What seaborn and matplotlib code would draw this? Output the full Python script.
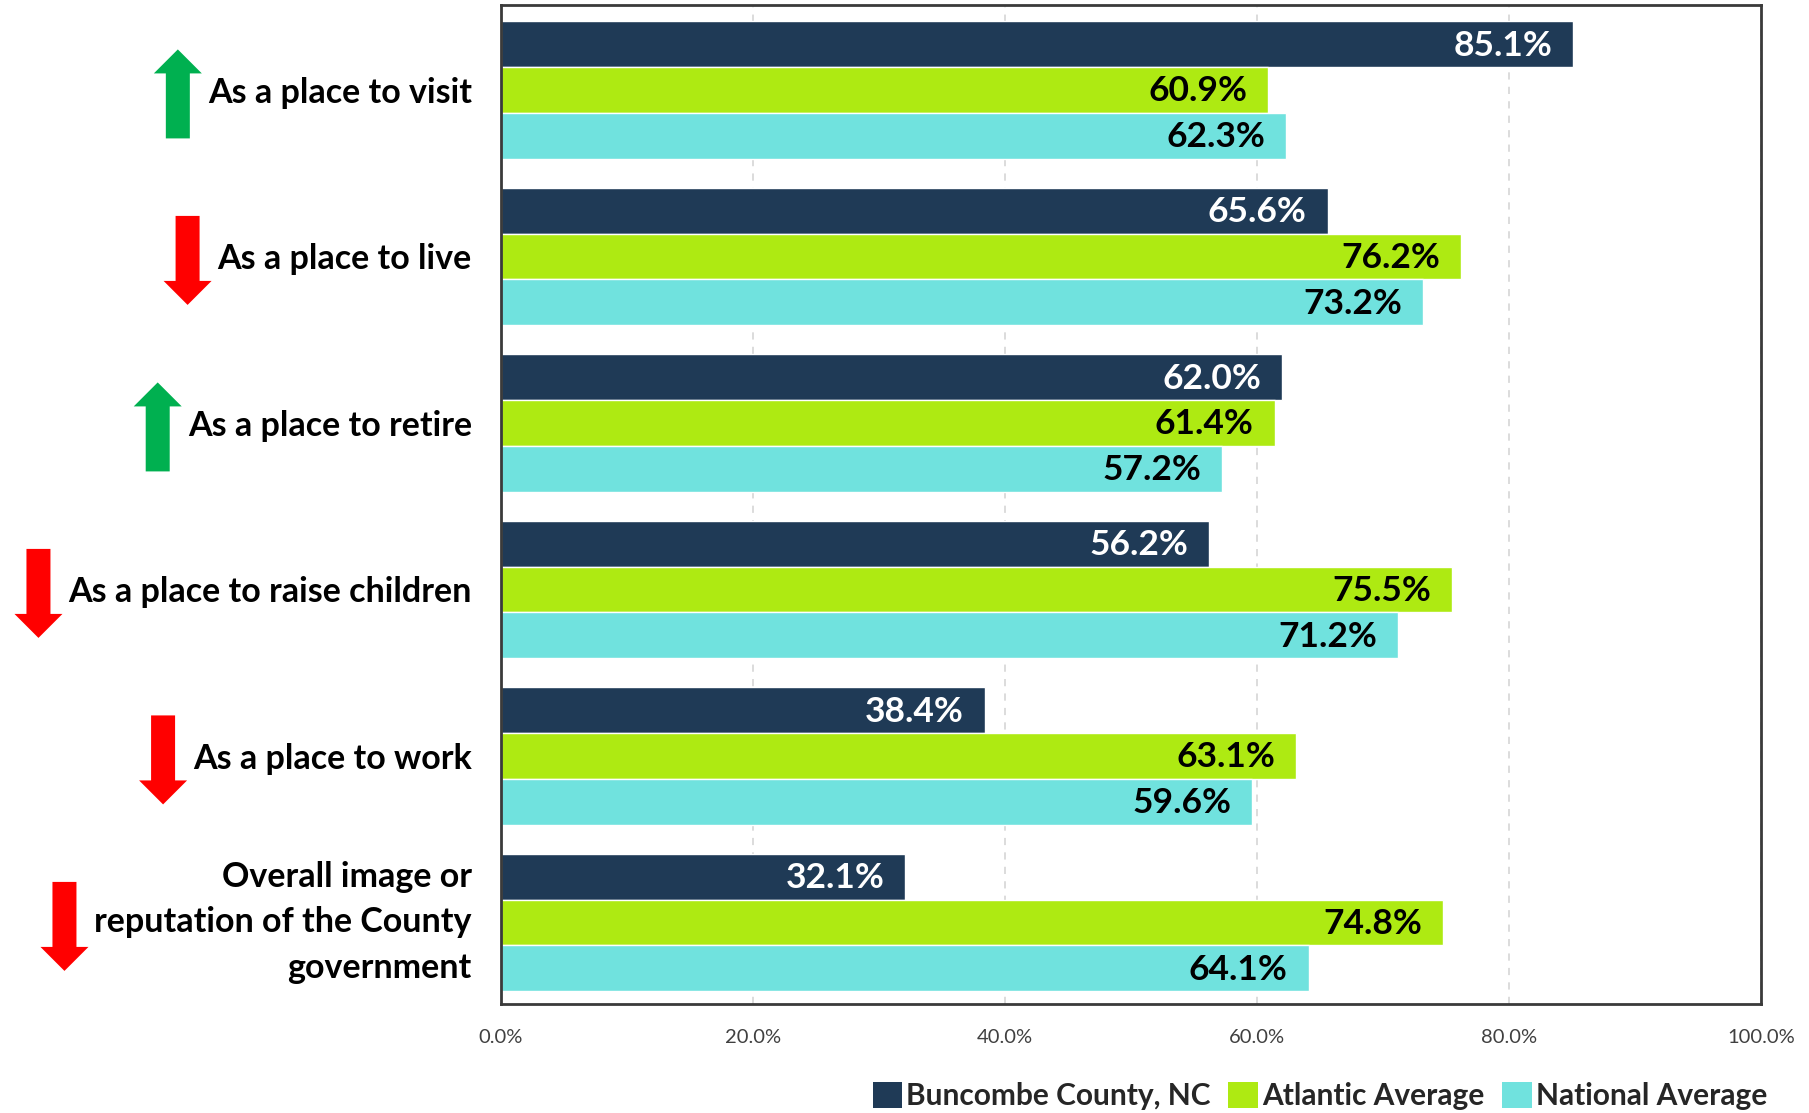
import matplotlib
matplotlib.use("Agg")
import matplotlib.pyplot as plt
import seaborn as sns
import pandas as pd
from matplotlib.patches import Polygon, Patch
from matplotlib.ticker import FuncFormatter

# Survey results: share of positive ratings by aspect
categories = [
    "As a place to visit",
    "As a place to live",
    "As a place to retire",
    "As a place to raise children",
    "As a place to work",
    "Overall image or\nreputation of the County\ngovernment",
]
series = ["Buncombe County, NC", "Atlantic Average", "National Average"]
buncombe = [85.1, 65.6, 62.0, 56.2, 38.4, 32.1]
atlantic = [60.9, 76.2, 61.4, 75.5, 63.1, 74.8]
national = [62.3, 73.2, 57.2, 71.2, 59.6, 64.1]
trend = ["up", "down", "up", "down", "down", "down"]
x_ticks = [0, 20, 40, 60, 80, 100]

colors = ["#1F3A56", "#AEEA12", "#70E2DE"]
value_text_colors = ["white", "black", "black"]
trend_colors = {"up": "#00B050", "down": "#FF0000"}

sns.set_style("white")
plt.rcParams["font.family"] = ["Lato", "DejaVu Sans"]

rows = []
for name, vals in zip(series, [buncombe, atlantic, national]):
    for cat, v in zip(categories, vals):
        rows.append({"category": cat, "series": name, "value": v})
df = pd.DataFrame(rows)

W, H = 1809, 1113
fig = plt.figure(figsize=(W / 100, H / 100), dpi=100)
ax = fig.add_axes([501 / W, 1 - 1004 / H, (1761 - 501) / W, (1004 - 5) / H])

sns.barplot(
    data=df, x="value", y="category", hue="series",
    order=categories, hue_order=series, palette=colors,
    orient="h", width=0.825, saturation=1, errorbar=None,
    legend=False, ax=ax,
)

ax.set_xlim(0, 100)
ax.set_ylim(len(categories) - 0.5 - 0.01, -0.5 - 0.01)
ax.set_xticks(x_ticks)
ax.xaxis.set_major_formatter(FuncFormatter(lambda v, _: f"{v:.1f}%"))
ax.set_xlabel("")
ax.set_ylabel("")
ax.set_yticks(range(len(categories)))
ax.set_yticklabels(categories, fontweight="bold")

ax.xaxis.grid(True, linestyle=(0, (4, 4)), color="#d9d9d9", linewidth=1.3)
ax.yaxis.grid(False)
ax.set_axisbelow(True)
for s in ax.spines.values():
    s.set_visible(True)
    s.set_color("#3a3a3a")
    s.set_linewidth(2)

ax.tick_params(axis="x", length=0, pad=18, labelsize=14.5, labelcolor="#404040")
ax.tick_params(axis="y", length=0, pad=21, labelsize=24.5, labelcolor="black")
for t in ax.get_yticklabels():
    t.set_linespacing(1.52)
    if "\n" in t.get_text():
        t.set_verticalalignment("center")

# value labels inside the bar ends
for container, vals, tc in zip(ax.containers, [buncombe, atlantic, national], value_text_colors):
    for patch, v in zip(container.patches, vals):
        ax.annotate(
            f"{v:.1f}%",
            xy=(patch.get_width(), patch.get_y() + patch.get_height() / 2),
            xytext=(-15, -1), textcoords="offset points",
            ha="right", va="center", fontsize=25.5, fontweight="bold", color=tc,
        )

# legend below the plot, right-aligned
handles = [Patch(facecolor=c, edgecolor="none") for c in colors]
fig.legend(
    handles, series, loc="center right", bbox_to_anchor=(1767 / W, 1 - 1096 / H),
    ncol=3, frameon=False, prop={"weight": "bold", "size": 21.5},
    handlelength=1.0, handleheight=1.0, handletextpad=0.12,
    columnspacing=0.6, borderaxespad=0, borderpad=0,
)

# trend arrows next to each category label
fig.canvas.draw()
renderer = fig.canvas.get_renderer()
to_fig = fig.transFigure.inverted()
L, head_len, shaft_hw, head_hw = 89, 24, 12, 24
for i, (lbl, direction) in enumerate(zip(ax.get_yticklabels(), trend)):
    bb = lbl.get_window_extent(renderer)
    yc = ax.transData.transform((0, i))[1] - 4
    xr = bb.x0 - 6
    xc = xr - head_hw
    if direction == "up":
        tip, base, s = yc + L / 2, yc - L / 2, 1
    else:
        tip, base, s = yc - L / 2, yc + L / 2, -1
    neck = tip - s * head_len
    verts = [
        (xc - shaft_hw, base), (xc + shaft_hw, base), (xc + shaft_hw, neck),
        (xc + head_hw, neck), (xc, tip), (xc - head_hw, neck), (xc - shaft_hw, neck),
    ]
    verts = to_fig.transform(verts)
    fig.add_artist(Polygon(verts, closed=True, transform=fig.transFigure,
                           facecolor=trend_colors[direction], edgecolor="none"))

fig.savefig("out.png", dpi=100)
